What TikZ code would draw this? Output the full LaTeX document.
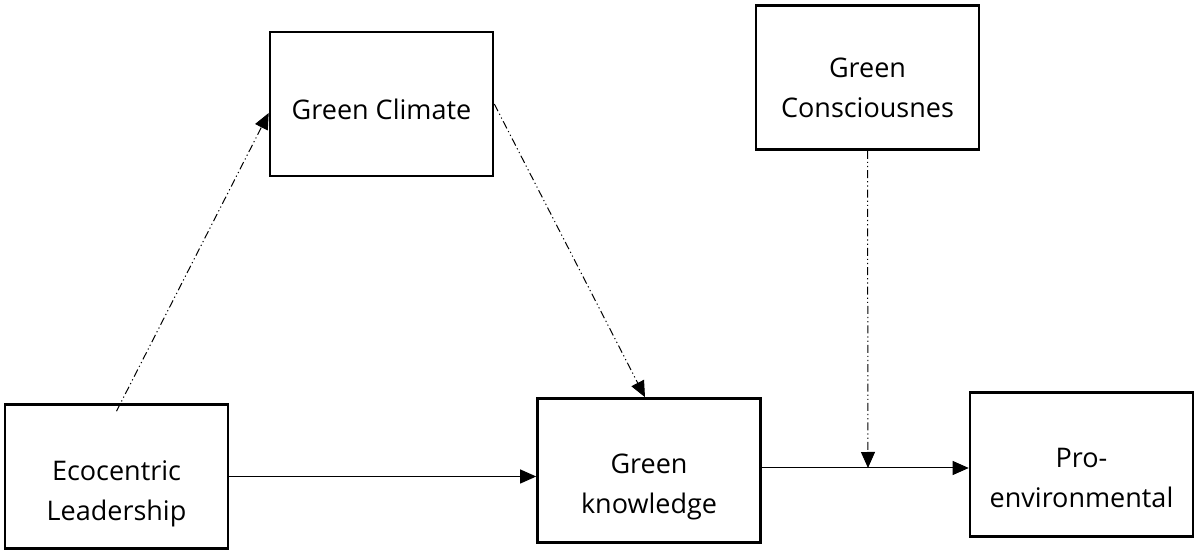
\documentclass[tikz,border=0pt]{standalone}
\usepackage{fontspec}
\setmainfont{Open Sans}
\usetikzlibrary{arrows.meta}
\newcommand{\dropby}[1]{\rule{0pt}{#1}}
\tikzset{
  box/.style={draw, line width=1.3pt, minimum width=111.5pt, minimum height=72pt,
    align=center, font=\fontsize{13.5}{20}\selectfont},
  link/.style={line width=0.5pt, -{Triangle[length=8pt,width=7pt]}},
  dashdots/.style={dash pattern=on 4pt off 1.5pt on 0.6pt off 1.5pt on 0.6pt off 1.5pt}
}
\begin{document}
\begin{tikzpicture}[x=0.5pt,y=-0.5pt]
      \useasboundingbox (0,0) rectangle (1195,550);
      \node[box] (climate)   at (381.5,104)    {\dropby{16pt}Green Climate};
      \node[box] (conscious) at (867.5,77.5)   {\dropby{20pt}Green\\Consciousnes};
      \node[box] (eco)       at (116.5,476.5)  {\dropby{27pt}Ecocentric\\Leadership};
      \node[box] (knowledge) at (649,470.5)    {\dropby{26pt}Green\\knowledge};
      \node[box] (proenv)    at (1081.5,464.5) {\dropby{23pt}Pro-\\environmental};

      \coordinate (moderate) at (868,468); % meets the lower path

      \draw[link,dashdots] ([yshift=-4pt]eco.north) -- ([yshift=-4.5pt]climate.west);
      \draw[link,dashdots] (climate.east) -- ([xshift=-2pt]knowledge.north);
      \draw[link,dashdots] (conscious.south) -- (moderate);
      \draw[link] (eco.east) -- (eco.east -| knowledge.west);
      \draw[link] (knowledge.east |- moderate) -- (proenv.west |- moderate);
    \end{tikzpicture}
\end{document}
